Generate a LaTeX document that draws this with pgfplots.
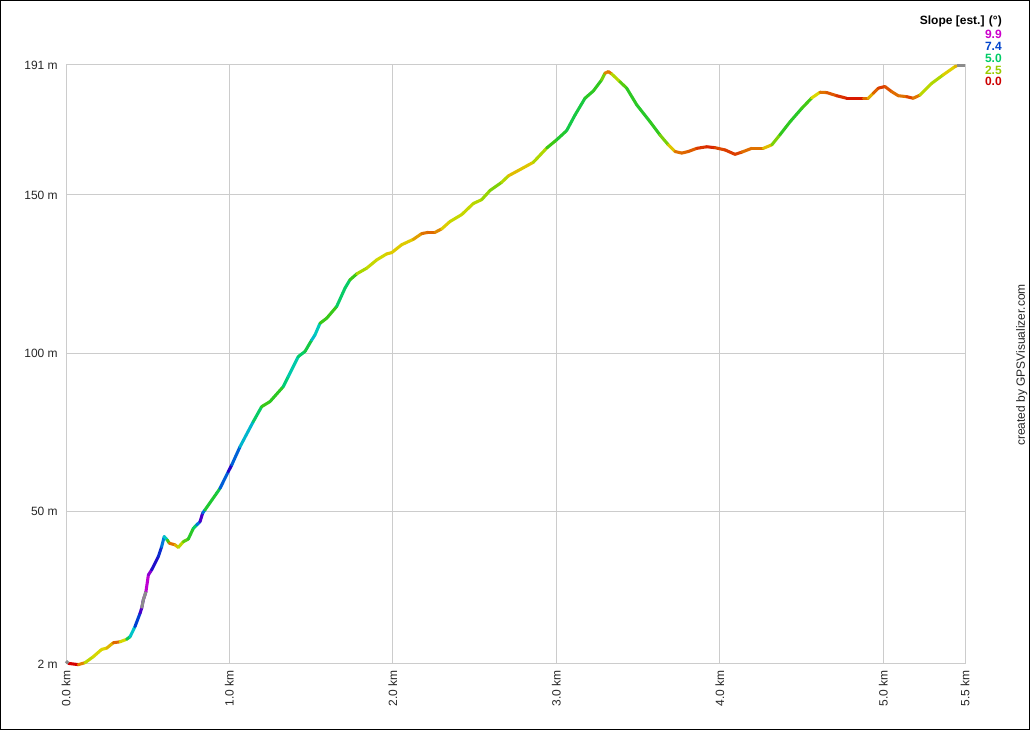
\documentclass[border=0pt]{standalone}
\usepackage{pgfplots}
\usepackage{pgfplotstable}
\pgfplotsset{compat=1.18}
\usepackage{fontspec}
\setmainfont{Liberation Sans}

\definecolor{gridgray}{RGB}{204,204,204}
\definecolor{segGray}{RGB}{140,140,140}
\definecolor{leg99}{RGB}{204,0,204}
\definecolor{leg74}{RGB}{0,68,204}
\definecolor{leg50}{RGB}{0,204,102}
\definecolor{leg25}{RGB}{153,204,0}
\definecolor{leg00}{RGB}{204,0,0}

\pgfplotsset{
  colormap={slope}{
    rgb255(0pt)=(215,0,0)
    rgb255(6pt)=(220,60,0)
    rgb255(12pt)=(225,125,0)
    rgb255(16pt)=(225,180,0)
    rgb255(20pt)=(220,215,0)
    rgb255(25pt)=(165,215,0)
    rgb255(33pt)=(60,200,20)
    rgb255(40pt)=(30,200,50)
    rgb255(50pt)=(0,205,120)
    rgb255(58pt)=(0,200,200)
    rgb255(66pt)=(0,130,220)
    rgb255(74pt)=(0,60,210)
    rgb255(85pt)=(40,0,200)
    rgb255(93pt)=(150,0,210)
    rgb255(99pt)=(210,0,210)
  }
}

% distance (km), elevation (m), slope (deg)
\pgfplotstableread{
x y s
0.014 2.2 0
0.075 1.8 0
0.116 2.4 2.5
0.167 4.3 2.0
0.218 6.6 2.1
0.249 7.0 1.8
0.289 8.7 1.4
0.330 9.0 0.6
0.371 9.8 3.5
0.392 10.6 5.5
0.422 13.8 6.2
0.453 18.0 8.5
0.463 19.6 9
0.473 22.2 9
0.489 24.8 9.5
0.504 30.1 9.9
0.524 31.7 8.5
0.565 35.9 8.0
0.585 39.0 7.4
0.601 42.2 6.0
0.620 41.1 5.5
0.632 40.1 1.0
0.667 39.6 1.2
0.687 38.8 2.0
0.718 40.6 2.6
0.748 41.4 3.5
0.779 44.8 4.0
0.800 45.9 5.5
0.820 46.9 8.0
0.836 49.6 9.5
0.850 50.6 4.0
0.922 55.9 4.0
0.942 57.4 4.5
0.993 62.7 9.5
1.014 64.8 7.4
1.065 70.6 6.5
1.146 78.5 5.5
1.197 83.2 4.0
1.248 84.8 2.8
1.329 89.5 4.5
1.360 92.7 5.5
1.421 99.0 5.5
1.462 100.6 4.0
1.503 104.2 4.5
1.523 105.8 7.4
1.554 109.5 4.0
1.595 111.1 2.8
1.656 114.8 4.0
1.707 120.6 5.5
1.737 123.2 4.0
1.779 125.1 2.7
1.840 126.9 2.2
1.901 129.5 2.2
1.962 131.4 2.0
1.993 131.8 1.7
2.054 134.3 2.0
2.125 136.0 1.7
2.176 137.8 1.2
2.217 138.2 1.0
2.258 138.2 1.0
2.299 139.3 1.6
2.349 141.6 2.2
2.421 143.8 2.2
2.492 147.3 2.2
2.543 148.5 2.5
2.594 151.4 2.7
2.666 154.0 2.9
2.706 156.0 1.8
2.778 158.0 1.6
2.859 160.3 2.0
2.941 164.8 2.8
3.002 167.4 3.8
3.063 170.3 4.0
3.114 175.2 4.6
3.175 180.5 3.8
3.226 182.8 3.6
3.277 186.3 3.5
3.297 188.4 2.2
3.318 188.9 0.3
3.338 188.2 2.0
3.389 185.7 2.7
3.430 183.7 3.5
3.492 178.4 3.8
3.573 173.1 3.8
3.634 168.9 3.3
3.685 165.8 2.4
3.726 163.7 1.2
3.767 163.2 1.0
3.807 163.7 1.0
3.859 164.7 0.8
3.920 165.2 0.3
3.971 164.9 0.5
4.032 164.2 0.9
4.093 162.8 0.3
4.134 163.5 1.0
4.195 164.7 1.1
4.266 164.7 1.1
4.318 165.8 2.3
4.368 169.0 3.3
4.430 173.1 3.8
4.501 177.3 3.7
4.562 180.6 2.8
4.613 182.4 1.2
4.654 182.3 1.0
4.715 181.3 0.7
4.776 180.5 0.3
4.847 180.5 0.2
4.878 180.5 0.3
4.908 180.5 1.8
4.939 182.1 1.3
4.970 183.7 0.6
5.010 184.2 0.6
5.051 182.6 1.0
5.092 181.3 1.1
5.143 181.0 1.1
5.183 180.5 0.3
5.224 181.5 2.0
5.296 185.2 2.6
5.367 187.9 2.2
5.439 190.5 1.6
5.449 190.7 1.6
}\profile

\begin{document}
\fontsize{9pt}{11pt}\selectfont
\begin{tikzpicture}
\useasboundingbox (0,0) rectangle (772.5pt,547.5pt);
\draw[line width=1pt, black] (0.5pt,0.5pt) rectangle (772pt,547pt);
\begin{axis}[
  at={(49.5pt,49.5pt)}, anchor=south west,
  scale only axis,
  width=674.25pt, height=449.25pt,
  xmin=0, xmax=5.5, ymin=2, ymax=191,
  xtick={0,1,2,3,4,5,5.5},
  xticklabels={0.0 km,1.0 km,2.0 km,3.0 km,4.0 km,5.0 km,5.5 km},
  ytick={2,50,100,150,191},
  yticklabels={2 m,50 m,100 m,150 m,191 m},
  major tick length=0pt,
  grid=major,
  grid style={gridgray, line width=0.75pt},
  axis line style={gridgray, line width=0.75pt},
  tick label style={font=\fontsize{9pt}{11pt}\selectfont, inner sep=0pt, black!85},
  xticklabel style={rotate=90, anchor=east},
  yticklabel style={anchor=east},
  xticklabel shift=4.5pt,
  yticklabel shift=6pt,
  /pgf/number format/assume math mode=true,
  clip=false,
  colormap name=slope,
  point meta min=0, point meta max=9.9,
]
\addplot[mesh, point meta=explicit, line width=2.3pt, line cap=round, line join=round, shader=flat]
  table[x=x, y=y, meta=s] {\profile};
\addplot[segGray, line width=2.3pt] coordinates {(0,2.9) (0.014,2.2)};
\addplot[segGray, line width=2.3pt] coordinates {(0.463,19.6) (0.473,22.2) (0.489,24.8)};
\addplot[segGray, line width=2.3pt] coordinates {(5.449,190.7) (5.5,190.7)};
\end{axis}
\node[anchor=east, font=\bfseries\fontsize{9pt}{11pt}\selectfont, inner sep=0pt] at (751.5pt,531.2pt) {Slope [est.] (°)};
\node[anchor=east, font=\bfseries\fontsize{9pt}{11pt}\selectfont, inner sep=0pt, text=leg99] at (751.5pt,521.8pt) {9.9};
\node[anchor=east, font=\bfseries\fontsize{9pt}{11pt}\selectfont, inner sep=0pt, text=leg74] at (751.5pt,512.5pt) {7.4};
\node[anchor=east, font=\bfseries\fontsize{9pt}{11pt}\selectfont, inner sep=0pt, text=leg50] at (751.5pt,503.8pt) {5.0};
\node[anchor=east, font=\bfseries\fontsize{9pt}{11pt}\selectfont, inner sep=0pt, text=leg25] at (751.5pt,495.0pt) {2.5};
\node[anchor=east, font=\bfseries\fontsize{9pt}{11pt}\selectfont, inner sep=0pt, text=leg00] at (751.5pt,486.2pt) {0.0};
\node[rotate=90, font=\fontsize{9pt}{11pt}\selectfont, inner sep=0pt, text=black!85] at (766.3pt,273.75pt) {created by GPSVisualizer.com};
\end{tikzpicture}
\end{document}
